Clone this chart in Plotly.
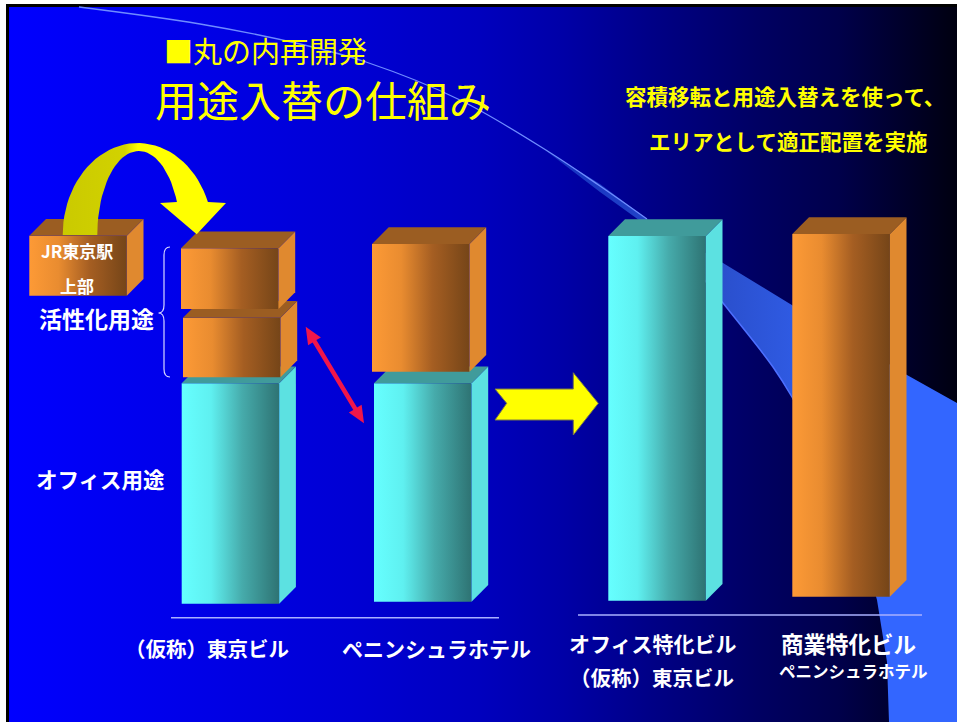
import math
import plotly.graph_objects as go

# ---------------- data (heights, 1 unit = 1 px) ----------------
buildings = ["（仮称）東京ビル", "ペニンシュラホテル", "オフィス特化ビル", "商業特化ビル"]
office_use = [220.4, 218.4, 364.7, 0.0]          # オフィス用途 (cyan)
active_use_lower = [59.6, 127.7, 0.0, 362.7]      # 活性化用途 (orange, lower block)
active_use_upper = [60.7, 0.0, 0.0, 0.0]          # 活性化用途 (orange, upper block, from JR)
jr_station_upper = 60.0                           # JR東京駅上部 (transferred volume)

# ---------------- layout / style ----------------
W, H = 957, 722
GROUND_PX = 603.7
bar_left = [181.7, 374.0, 608.3, 792.3]
bar_width = 97.5
ground_offset = [0.0, 2.0, 3.0, 7.0]
active_gap = [6.0, 11.6, 0.0, 0.0]
active_shift = [1.3, -2.0, 0.0, 0.0]
upper_gap = 8.7
upper_shift = -0.7
DEPTH = 16.7
jr_left, jr_bottom_px = 29.3, 295.7

CYAN_FRONT = [[0, "#66ffff"], [0.3, "#5ff0f0"], [0.62, "#46abab"], [1, "#2e7373"]]
CYAN_SIDE, CYAN_TOP = "#5ce1e1", "#409b9b"
ORANGE_FRONT = [[0, "#fd9a36"], [0.3, "#e98c30"], [0.62, "#a55e22"], [1, "#754518"]]
ORANGE_SIDE, ORANGE_TOP = "#e0892f", "#9b5d22"
FONT = "Noto Sans CJK JP"


def Y(px):
    return GROUND_PX - px


fig = go.Figure()


def poly(xs, ys, color=None, gradient=None, line_color=None, line_width=0, gstart=None, gstop=None):
    xs = list(xs) + [xs[0]]
    ys = list(ys) + [ys[0]]
    kw = dict(x=xs, y=ys, mode="lines", fill="toself", hoverinfo="skip", showlegend=False,
              line=dict(width=line_width, color=line_color or "rgba(0,0,0,0)"))
    if gradient is not None:
        g = dict(type="horizontal", colorscale=gradient)
        if gstart is not None:
            g["start"] = gstart
            g["stop"] = gstop
        kw["fillgradient"] = g
    else:
        kw["fillcolor"] = color
    fig.add_trace(go.Scatter(**kw))


def box(left, bottom, height, front, side, top):
    if height <= 0:
        return
    r = left + bar_width
    t = bottom + height
    d = DEPTH
    poly([left, r, r, left], [bottom, bottom, t, t], gradient=front)
    poly([r, r + d, r + d, r], [bottom, bottom + d, t + d, t], color=side)
    poly([left, r, r + d, left + d], [t, t, t + d, t + d], color=top)


# ---------------- background ----------------
fig.add_shape(type="rect", x0=6, x1=W, y0=Y(4), y1=Y(H), fillcolor="black", line_width=0, layer="below")
bg_stops = [(9, 255), (160, 236), (350, 212), (480, 190), (560, 168), (650, 135),
            (760, 98), (840, 74), (900, 44), (957, 16)]
bg_scale = [[(x - 9) / 948, "rgb(0,0,%d)" % b] for x, b in bg_stops]
poly([9, W, W, 9], [Y(7), Y(7), Y(H), Y(H)], gradient=bg_scale)

# swoosh band
upper_curve = [(545, 150), (600, 184), (647, 219), (723, 263), (800, 310), (907, 375), (957, 403)]
lower_curve = [(889, 722), (887, 662), (877, 600), (860, 540), (830, 470), (792, 397), (773, 367),
               (747, 333), (723, 303), (690, 262), (650, 228), (600, 192)]
bx = [p[0] for p in upper_curve] + [957] + [p[0] for p in lower_curve]
by = [Y(p[1]) for p in upper_curve] + [Y(722)] + [Y(p[1]) for p in lower_curve]
poly(bx, by, gradient=[[0, "#1430c0"], [0.42, "#2a4fcc"], [0.6, "#2f5ae2"], [0.8, "#3366ff"], [1, "#3366ff"]])
thin = [(79, 7), (200, 24), (300, 44), (366, 62), (460, 100), (549, 152), (600, 186), (647, 219)]
fig.add_trace(go.Scatter(x=[p[0] for p in thin], y=[Y(p[1]) for p in thin], mode="lines",
                         line=dict(color="#6f8cff", width=1.3, shape="spline"), hoverinfo="skip", showlegend=False))
edge = lower_curve[3:10]
fig.add_trace(go.Scatter(x=[p[0] for p in edge], y=[Y(p[1]) for p in edge], mode="lines",
                         line=dict(color="#4d70ff", width=1.5, shape="spline"), hoverinfo="skip", showlegend=False))

# ---------------- bars ----------------
for i in range(len(buildings)):
    base = ground_offset[i]
    box(bar_left[i], base, office_use[i], CYAN_FRONT, CYAN_SIDE, CYAN_TOP)
    lb = base + office_use[i] + active_gap[i]
    box(bar_left[i] + active_shift[i], lb, active_use_lower[i], ORANGE_FRONT, ORANGE_SIDE, ORANGE_TOP)
    ub = lb + active_use_lower[i] + upper_gap
    box(bar_left[i] + upper_shift, ub, active_use_upper[i], ORANGE_FRONT, ORANGE_SIDE, ORANGE_TOP)

# JR block
box(jr_left, Y(jr_bottom_px), jr_station_upper, ORANGE_FRONT, ORANGE_SIDE, ORANGE_TOP)

# ---------------- curved yellow arrow ----------------
pts = []
cx, cy, rx, ry = 137.8, 235.0, 75.1, 92.0
t1 = math.pi - math.asin(33 / ry)
for k in range(41):
    t = t1 * k / 40
    pts.append((cx - rx * math.cos(t), cy - ry * math.sin(t)))
pts += [(226, 203), (196.7, 234.3), (160, 203)]
cxi, rxi, ryi = 138.8, 41.5, 84.0
t2 = math.pi - math.asin(33 / ryi)
for k in range(40, -1, -1):
    t = t2 * k / 40
    pts.append((cxi - rxi * math.cos(t), cy - ryi * math.sin(t)))
poly([p[0] for p in pts], [Y(p[1]) for p in pts],
     gradient=[[0, "#caca00"], [0.38, "#d2d200"], [0.46, "#ffff00"], [1, "#ffff00"]])

# ---------------- chevron arrow ----------------
chev = [(495, 389), (506.7, 403.3), (495, 420), (573.3, 420), (573.3, 435), (598.3, 403.3),
        (573.3, 372.7), (573.3, 389)]
poly([p[0] for p in chev], [Y(p[1]) for p in chev], color="#ffff00", line_color="#77774a", line_width=1)

# ---------------- red double arrow ----------------
P1, P2 = (305.7, 326.7), (364.0, 423.3)
dx, dy = P2[0] - P1[0], P2[1] - P1[1]
L = math.hypot(dx, dy)
ux, uy = dx / L, dy / L
nx, ny = -uy, ux
hl, hw, sw = 17, 7.5, 2.2
def pt(p, a, b):
    return (p[0] + a * ux + b * nx, p[1] + a * uy + b * ny)
red = [P1, pt(P1, hl, hw), pt(P1, hl, sw), pt(P2, -hl, sw), pt(P2, -hl, hw), P2,
       pt(P2, -hl, -hw), pt(P2, -hl, -sw), pt(P1, hl, -sw), pt(P1, hl, -hw)]
poly([p[0] for p in red], [Y(p[1]) for p in red], color="#f0164a")

# ---------------- brace & baselines ----------------
brace = ("M 170,247 Q 164,247 164,255 L 164,305 Q 164,313 158.5,313 "
         "Q 164,313 164,321 L 164,369 Q 164,377 170,377")
import re
def conv_path(p):
    out = []
    for tok in p.split():
        if "," in tok:
            a, b = tok.split(",")
            out.append("%s,%s" % (a, Y(float(b))))
        else:
            out.append(tok)
    return " ".join(out)
fig.add_shape(type="path", path=conv_path(brace), line=dict(color="#d8d8ff", width=1.2), layer="above")
fig.add_shape(type="line", x0=171, x1=499, y0=Y(617.7), y1=Y(617.7), line=dict(color="#aab0ff", width=1.5))
fig.add_shape(type="line", x0=578, x1=922, y0=Y(615), y1=Y(615), line=dict(color="#aab0ff", width=1.5))

# ---------------- text ----------------
def text(s, x, ypx, size, color="white", bold=True, anchor="center"):
    fig.add_annotation(x=x, y=Y(ypx), text=s, showarrow=False, xanchor=anchor, yanchor="middle",
                       font=dict(family=FONT, size=size, color=color, weight=700 if bold else 400))

text("■丸の内再開発", 265.5, 50, 29, "#ffff00", bold=False)
text("用途入替の仕組み", 323, 98, 42, "#ffff00", bold=False)
text("容積移転と用途入替えを使って、", 785, 95, 21.5, "#ffff00")
text("エリアとして適正配置を実施", 787.5, 140, 21.5, "#ffff00")
text("JR東京駅", 77, 250, 17)
text("上部", 77, 285, 17)
text("活性化用途", 96, 318, 23)
text("オフィス用途", 100, 478, 21.5)
text(buildings[0], 207, 648, 20.5)
text(buildings[1], 436, 648, 21)
text(buildings[2], 653, 643, 21)
text("（仮称）東京ビル", 652, 677, 20.5)
text(buildings[3], 848.5, 643, 22.5)
text("ペニンシュラホテル", 853, 671, 16.5)

fig.update_layout(
    width=W, height=H, margin=dict(l=0, r=0, t=0, b=0),
    paper_bgcolor="white", plot_bgcolor="white", showlegend=False,
    xaxis=dict(range=[0, W], visible=False, fixedrange=True),
    yaxis=dict(range=[Y(H), Y(0)], visible=False, fixedrange=True),
)
fig.write_html("out.html")
